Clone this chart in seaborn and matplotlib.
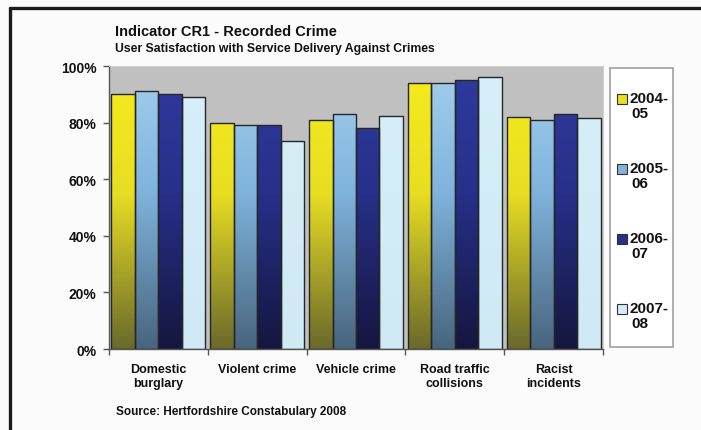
import numpy as np
import pandas as pd
import matplotlib
matplotlib.use("Agg")
import matplotlib.pyplot as plt
from matplotlib.colors import LinearSegmentedColormap
from matplotlib.patches import Rectangle
from matplotlib.lines import Line2D
import seaborn as sns

# data
categories = ["Domestic\nburglary", "Violent crime", "Vehicle crime",
              "Road traffic\ncollisions", "Racist\nincidents"]
years = ["2004-05", "2005-06", "2006-07", "2007-08"]
legend_labels = ["2004-\n05", "2005-\n06", "2006-\n07", "2007-\n08"]
sat_0405 = [90, 80, 81, 94, 82]
sat_0506 = [91, 79, 83, 94, 81]
sat_0607 = [90, 79, 78, 95, 83]
sat_0708 = [89, 73.5, 82.5, 96, 81.5]
yticks = [0, 20, 40, 60, 80, 100]

# gradient stops (bottom, middle, top) for each year
grads = [
    ["#6a692c", "#e8de22", "#f6ec1c"],
    ["#48657e", "#7fb3dc", "#a3cfee"],
    ["#15163f", "#27308a", "#2f3a9e"],
    ["#cfeaf5", "#d3edf7", "#d6eff8"],
]

df = pd.DataFrame({
    "Crime": categories * 4,
    "Year": np.repeat(years, len(categories)),
    "Satisfaction": sat_0405 + sat_0506 + sat_0607 + sat_0708,
})

sns.set_style("white")
plt.rcParams['font.family'] = ['Liberation Sans', 'DejaVu Sans']
plt.rcParams['text.color'] = "#111111"
plt.rcParams['xtick.color'] = "#111111"
plt.rcParams['ytick.color'] = "#111111"

fig = plt.figure(figsize=(7.01, 4.31), dpi=100, facecolor="#fbfbfb")
ax = fig.add_axes([109 / 701, 1 - 350 / 431, 494 / 701, 283 / 431])
ax.set_facecolor("#c0c0c0")

sns.barplot(data=df, x="Crime", y="Satisfaction", hue="Year", width=0.95,
            saturation=1, edgecolor="#262626", linewidth=1.0, legend=False, ax=ax)

# gradient fill, fixed to the axis height like the original
grad = np.linspace(0, 1, 256).reshape(-1, 1)
for i, cont in enumerate(ax.containers):
    cmap = LinearSegmentedColormap.from_list(
        f"g{i}", [(0, grads[i][0]), (0.55, grads[i][1]), (1, grads[i][2])])
    for bar in cont:
        x0 = bar.get_x()
        w = bar.get_width()
        im = ax.imshow(grad, extent=[x0, x0 + w, 0, 100], origin="lower",
                       aspect="auto", cmap=cmap, vmin=0, vmax=1, zorder=1.5)
        im.set_clip_path(bar)
        bar.set_facecolor("none")
        bar.set_zorder(2)

ax.set_xlim(-0.5, len(categories) - 0.5)
ax.set_ylim(0, 100)
ax.set_xlabel("")
ax.set_ylabel("")

ax.set_yticks(yticks)
ax.set_yticklabels([f"{v}%" for v in yticks], fontsize=10, fontweight="bold")
ax.tick_params(axis="y", length=4, width=1, color="#555555", pad=5, left=True)
ax.set_xticks(range(len(categories)))
ax.set_xticklabels(categories, fontsize=9, fontweight="bold")
ax.set_xticks(np.arange(-0.5, len(categories), 1), minor=True)
ax.tick_params(axis="x", which="major", length=0, pad=10)
ax.tick_params(axis="x", which="minor", length=4, width=1, color="#555555", bottom=True)

for side in ["left", "bottom"]:
    ax.spines[side].set_color("#555555")
    ax.spines[side].set_linewidth(1)
for side in ["top", "right"]:
    ax.spines[side].set_color("#d0d0d0")
    ax.spines[side].set_linewidth(0.8)

# titles and source
fig.text(115 / 701, 1 - 36 / 431, "Indicator CR1 - Recorded Crime",
         fontsize=10.5, fontweight="bold", va="baseline")
fig.text(115 / 701, 1 - 52 / 431, "User Satisfaction with Service Delivery Against Crimes",
         fontsize=8.8, fontweight="bold", va="baseline")
fig.text(116 / 701, 1 - 415 / 431, "Source: Hertfordshire Constabulary 2008",
         fontsize=8.5, fontweight="bold", va="baseline")

# legend box
fig.patches.append(Rectangle((610 / 701, 1 - 348 / 431), 63 / 701, 279 / 431,
                             transform=fig.transFigure, facecolor="white",
                             edgecolor="#a0a0a0", linewidth=1.2))
for k, lab in enumerate(legend_labels):
    top = 95 + 70 * k
    fig.patches.append(Rectangle((617 / 701, 1 - (top + 10) / 431), 10 / 701, 10 / 431,
                                 transform=fig.transFigure, facecolor=grads[k][1],
                                 edgecolor="#333333", linewidth=0.8))
    first, second = lab.split("\n")
    fig.text(630 / 701, 1 - (top + 8) / 431, first, fontsize=11,
             fontweight="bold", va="baseline")
    fig.text(631 / 701, 1 - (top + 23) / 431, second, fontsize=11,
             fontweight="bold", va="baseline")

# page frame (top and left)
fig.lines.append(Line2D([10 / 701, 1], [1 - 9 / 431, 1 - 9 / 431],
                        transform=fig.transFigure, color="#1a1a1a", linewidth=2.4))
fig.lines.append(Line2D([10 / 701, 10 / 701], [0, 1 - 9 / 431],
                        transform=fig.transFigure, color="#1a1a1a", linewidth=2.4))

fig.savefig("out.png", dpi=100, facecolor=fig.get_facecolor())
